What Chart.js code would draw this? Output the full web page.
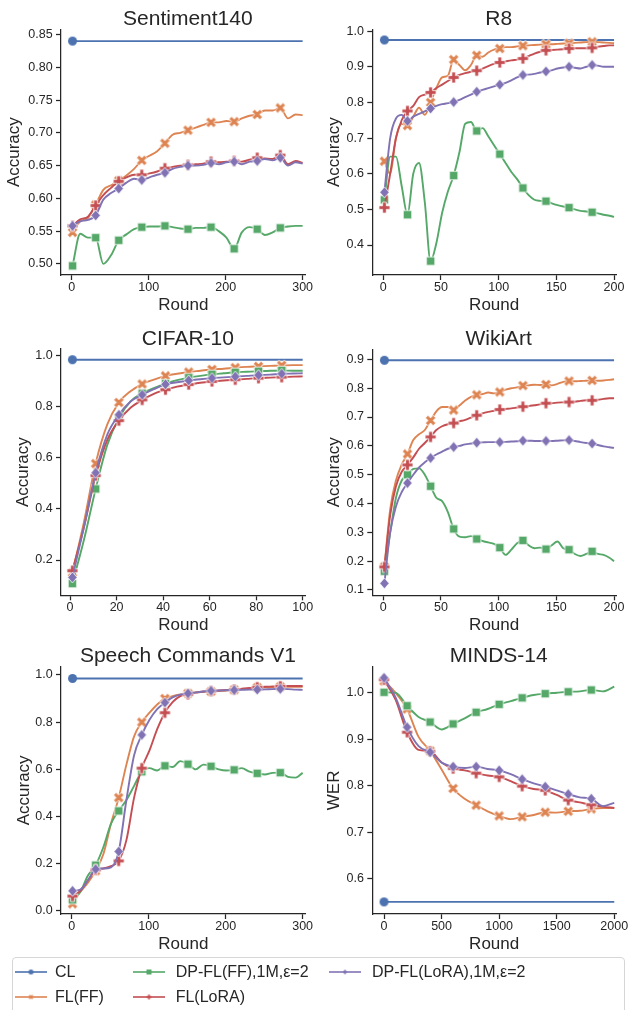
<!DOCTYPE html>
<html>
<head>
<meta charset="utf-8">
<script src="https://cdn.jsdelivr.net/npm/chart.js@4.4.0/dist/chart.umd.min.js"></script>
<style>
    body { margin: 0; background: #fff; width: 628px; height: 1010px; position: relative; overflow: hidden;
           font-family: "Liberation Sans", Arial, sans-serif; color: #262626; }
    canvas.panel { position: absolute; }
    #legendBox { position: absolute; left: 12px; top: 957px; width: 613px; height: 70px; box-sizing: border-box;
                 border: 1px solid #d6d6d6; border-radius: 4px; }
    .legItem { position: absolute; height: 20px; line-height: 20px; font-size: 16px; white-space: nowrap; }
    .legItem canvas { position: absolute; left: 0; top: 4px; }
    .legItem span { position: absolute; top: 0; }
</style>
</head>
<body>
<canvas id="c1" class="panel"></canvas>
<canvas id="c2" class="panel"></canvas>
<canvas id="c3" class="panel"></canvas>
<canvas id="c4" class="panel"></canvas>
<canvas id="c5" class="panel"></canvas>
<canvas id="c6" class="panel"></canvas>
<div id="legendBox"></div>
<script>
// ---------- dados ----------
const seriesNames = ["CL", "FL(FF)", "DP-FL(FF),1M,ε=2", "FL(LoRA)", "DP-FL(LoRA),1M,ε=2"];

// Sentiment140
const sentRounds = [1, 11, 21, 31, 41, 51, 61, 71, 81, 91, 101, 111, 121, 131, 141, 151, 161, 171, 181, 191, 201, 211, 221, 231, 241, 251, 261, 271, 281, 291, 300];
const sentCL = 0.840;
const sentFF = [0.548, 0.565, 0.570, 0.590, 0.613, 0.620, 0.627, 0.635, 0.645, 0.658, 0.665, 0.672, 0.684, 0.697, 0.700, 0.704, 0.708, 0.712, 0.716, 0.716, 0.718, 0.717, 0.722, 0.726, 0.728, 0.734, 0.734, 0.738, 0.722, 0.728, 0.727];
const sentDPFF = [0.497, 0.546, 0.540, 0.540, 0.500, 0.513, 0.536, 0.545, 0.553, 0.556, 0.557, 0.557, 0.558, 0.556, 0.554, 0.553, 0.555, 0.555, 0.556, 0.550, 0.540, 0.523, 0.548, 0.556, 0.553, 0.544, 0.548, 0.555, 0.557, 0.558, 0.558];
const sentLoRA = [0.558, 0.568, 0.572, 0.589, 0.605, 0.616, 0.626, 0.632, 0.636, 0.636, 0.638, 0.641, 0.646, 0.648, 0.650, 0.651, 0.652, 0.653, 0.656, 0.655, 0.656, 0.657, 0.656, 0.659, 0.662, 0.661, 0.660, 0.666, 0.652, 0.657, 0.654];
const sentDPLoRA = [0.558, 0.565, 0.567, 0.574, 0.598, 0.608, 0.615, 0.624, 0.630, 0.628, 0.632, 0.636, 0.639, 0.645, 0.648, 0.650, 0.650, 0.651, 0.654, 0.652, 0.655, 0.656, 0.652, 0.656, 0.657, 0.660, 0.658, 0.662, 0.650, 0.655, 0.653];
const sentYTicks = [0.50, 0.55, 0.60, 0.65, 0.70, 0.75, 0.80, 0.85];
const sentXTicks = [0, 100, 200, 300];

// R8
const r8Rounds = [1, 6, 11, 16, 21, 26, 31, 36, 41, 46, 51, 56, 61, 66, 71, 76, 81, 86, 91, 96, 101, 106, 111, 116, 121, 126, 131, 136, 141, 146, 151, 156, 161, 166, 171, 176, 181, 186, 191, 196, 200];
const r8CL = 0.975;
const r8FF = [0.635, 0.600, 0.700, 0.740, 0.735, 0.760, 0.785, 0.765, 0.800, 0.840, 0.870, 0.875, 0.920, 0.905, 0.890, 0.905, 0.932, 0.928, 0.940, 0.948, 0.951, 0.955, 0.955, 0.957, 0.959, 0.960, 0.961, 0.962, 0.963, 0.963, 0.964, 0.965, 0.966, 0.967, 0.968, 0.969, 0.970, 0.969, 0.968, 0.967, 0.966];
const r8DPFF = [0.527, 0.648, 0.648, 0.565, 0.485, 0.600, 0.630, 0.520, 0.355, 0.405, 0.490, 0.550, 0.595, 0.660, 0.740, 0.745, 0.720, 0.728, 0.705, 0.680, 0.655, 0.630, 0.605, 0.585, 0.560, 0.540, 0.527, 0.524, 0.523, 0.517, 0.512, 0.508, 0.505, 0.500, 0.496, 0.494, 0.492, 0.489, 0.485, 0.482, 0.479];
const r8LoRA = [0.505, 0.600, 0.700, 0.750, 0.776, 0.790, 0.815, 0.822, 0.828, 0.840, 0.850, 0.860, 0.870, 0.877, 0.882, 0.886, 0.889, 0.895, 0.902, 0.908, 0.912, 0.915, 0.918, 0.920, 0.923, 0.930, 0.937, 0.942, 0.946, 0.947, 0.948, 0.949, 0.951, 0.952, 0.952, 0.952, 0.953, 0.956, 0.958, 0.960, 0.960];
const r8DPLoRA = [0.548, 0.700, 0.755, 0.765, 0.748, 0.760, 0.768, 0.775, 0.783, 0.790, 0.795, 0.798, 0.801, 0.807, 0.815, 0.822, 0.830, 0.835, 0.840, 0.845, 0.850, 0.855, 0.862, 0.870, 0.877, 0.878, 0.880, 0.884, 0.887, 0.890, 0.895, 0.898, 0.900, 0.897, 0.895, 0.900, 0.905, 0.903, 0.900, 0.900, 0.900];
const r8YTicks = [0.4, 0.5, 0.6, 0.7, 0.8, 0.9, 1.0];
const r8XTicks = [0, 50, 100, 150, 200];

// CIFAR-10
const cifRounds = [1, 6, 11, 16, 21, 26, 31, 36, 41, 46, 51, 56, 61, 66, 71, 76, 81, 86, 91, 96, 100];
const cifCL = 0.983;
const cifFF = [0.150, 0.350, 0.577, 0.730, 0.816, 0.860, 0.888, 0.905, 0.920, 0.928, 0.935, 0.940, 0.945, 0.948, 0.952, 0.955, 0.957, 0.959, 0.961, 0.962, 0.962];
const cifDPFF = [0.108, 0.280, 0.478, 0.650, 0.755, 0.820, 0.852, 0.872, 0.890, 0.903, 0.913, 0.920, 0.926, 0.930, 0.934, 0.936, 0.938, 0.940, 0.941, 0.940, 0.940];
const cifLoRA = [0.158, 0.330, 0.530, 0.670, 0.745, 0.795, 0.826, 0.850, 0.866, 0.878, 0.886, 0.893, 0.898, 0.902, 0.905, 0.908, 0.911, 0.913, 0.915, 0.917, 0.918];
const cifDPLoRA = [0.132, 0.330, 0.541, 0.690, 0.768, 0.820, 0.846, 0.868, 0.887, 0.895, 0.902, 0.907, 0.911, 0.914, 0.917, 0.920, 0.923, 0.925, 0.928, 0.929, 0.930];
const cifYTicks = [0.2, 0.4, 0.6, 0.8, 1.0];
const cifXTicks = [0, 20, 40, 60, 80, 100];

// WikiArt
const wikiRounds = [1, 6, 11, 16, 21, 26, 31, 36, 41, 46, 51, 56, 61, 66, 71, 76, 81, 86, 91, 96, 101, 106, 111, 116, 121, 126, 131, 136, 141, 146, 151, 156, 161, 166, 171, 176, 181, 186, 191, 196, 200];
const wikiCL = 0.897;
const wikiFF = [0.180, 0.380, 0.480, 0.535, 0.572, 0.620, 0.640, 0.655, 0.688, 0.720, 0.735, 0.735, 0.724, 0.740, 0.757, 0.770, 0.777, 0.780, 0.785, 0.782, 0.787, 0.795, 0.800, 0.803, 0.809, 0.810, 0.812, 0.811, 0.813, 0.810, 0.815, 0.822, 0.825, 0.824, 0.825, 0.826, 0.827, 0.826, 0.827, 0.829, 0.831];
const wikiDPFF = [0.165, 0.300, 0.420, 0.480, 0.500, 0.520, 0.522, 0.500, 0.460, 0.420, 0.408, 0.370, 0.312, 0.285, 0.283, 0.287, 0.277, 0.270, 0.265, 0.260, 0.247, 0.222, 0.240, 0.262, 0.272, 0.255, 0.245, 0.247, 0.242, 0.255, 0.268, 0.245, 0.240, 0.225, 0.218, 0.225, 0.234, 0.225, 0.222, 0.212, 0.200];
const wikiLoRA = [0.180, 0.360, 0.460, 0.510, 0.534, 0.560, 0.590, 0.610, 0.631, 0.655, 0.668, 0.675, 0.679, 0.685, 0.690, 0.698, 0.706, 0.713, 0.718, 0.722, 0.726, 0.728, 0.730, 0.733, 0.736, 0.738, 0.741, 0.744, 0.748, 0.748, 0.750, 0.751, 0.752, 0.753, 0.756, 0.758, 0.758, 0.760, 0.763, 0.765, 0.765];
const wikiDPLoRA = [0.123, 0.300, 0.390, 0.440, 0.471, 0.500, 0.525, 0.543, 0.558, 0.570, 0.580, 0.590, 0.596, 0.600, 0.605, 0.608, 0.611, 0.612, 0.613, 0.613, 0.613, 0.614, 0.615, 0.616, 0.618, 0.618, 0.617, 0.617, 0.617, 0.617, 0.618, 0.619, 0.620, 0.617, 0.613, 0.610, 0.608, 0.603, 0.598, 0.595, 0.593];
const wikiYTicks = [0.1, 0.2, 0.3, 0.4, 0.5, 0.6, 0.7, 0.8, 0.9];
const wikiXTicks = [0, 50, 100, 150, 200];

// Speech Commands V1
const spRounds = [1, 11, 21, 31, 41, 51, 61, 71, 81, 91, 101, 111, 121, 131, 141, 151, 161, 171, 181, 191, 201, 211, 221, 231, 241, 251, 261, 271, 281, 291, 300];
const spCL = 0.985;
const spFF = [0.030, 0.080, 0.120, 0.170, 0.240, 0.370, 0.480, 0.620, 0.740, 0.800, 0.840, 0.875, 0.900, 0.910, 0.917, 0.922, 0.926, 0.928, 0.930, 0.932, 0.934, 0.937, 0.939, 0.942, 0.947, 0.948, 0.948, 0.950, 0.950, 0.950, 0.950];
const spDPFF = [0.047, 0.080, 0.150, 0.194, 0.270, 0.370, 0.424, 0.470, 0.530, 0.590, 0.605, 0.595, 0.615, 0.610, 0.635, 0.622, 0.600, 0.620, 0.613, 0.600, 0.595, 0.598, 0.605, 0.590, 0.583, 0.578, 0.585, 0.586, 0.568, 0.565, 0.585];
const spLoRA = [0.063, 0.085, 0.130, 0.174, 0.180, 0.190, 0.212, 0.300, 0.480, 0.605, 0.680, 0.770, 0.840, 0.885, 0.910, 0.918, 0.925, 0.930, 0.932, 0.934, 0.936, 0.938, 0.942, 0.945, 0.948, 0.950, 0.951, 0.952, 0.953, 0.953, 0.953];
const spDPLoRA = [0.085, 0.090, 0.130, 0.177, 0.180, 0.185, 0.252, 0.470, 0.660, 0.746, 0.810, 0.855, 0.883, 0.905, 0.917, 0.922, 0.926, 0.930, 0.933, 0.934, 0.935, 0.936, 0.937, 0.938, 0.938, 0.939, 0.940, 0.941, 0.940, 0.938, 0.937];
const spYTicks = [0.0, 0.2, 0.4, 0.6, 0.8, 1.0];
const spXTicks = [0, 100, 200, 300];

// MINDS-14 (WER)
const mindsRounds = [0, 100, 200, 300, 400, 500, 600, 700, 800, 900, 1000, 1100, 1200, 1300, 1400, 1500, 1600, 1700, 1800, 1900, 2000];
const mindsCL = 0.550;
const mindsFF = [1.025, 1.000, 0.965, 0.905, 0.875, 0.835, 0.794, 0.772, 0.758, 0.745, 0.735, 0.728, 0.733, 0.737, 0.743, 0.742, 0.745, 0.746, 0.750, 0.752, 0.752];
const mindsDPFF = [1.001, 1.000, 0.972, 0.948, 0.937, 0.921, 0.933, 0.945, 0.958, 0.965, 0.975, 0.982, 0.989, 0.995, 0.998, 1.000, 1.002, 1.003, 1.006, 1.003, 1.013];
const mindsLoRA = [1.028, 0.985, 0.915, 0.877, 0.874, 0.850, 0.837, 0.833, 0.827, 0.822, 0.819, 0.810, 0.799, 0.793, 0.790, 0.780, 0.769, 0.764, 0.759, 0.755, 0.752];
const mindsDPLoRA = [1.032, 0.990, 0.926, 0.885, 0.872, 0.850, 0.841, 0.838, 0.841, 0.836, 0.833, 0.825, 0.814, 0.805, 0.798, 0.790, 0.782, 0.775, 0.772, 0.756, 0.763];
const mindsYTicks = [0.6, 0.7, 0.8, 0.9, 1.0];
const mindsXTicks = [0, 500, 1000, 1500, 2000];

// ---------- estilo ----------
const INK = '#262626';
const FONT = '"Liberation Sans", Arial, sans-serif';
const COLORS = ['#4c72b0', '#dd8452', '#55a868', '#c44e52', '#8172b3'];
const SHAPES = ['circle', 'x', 'square', 'plus', 'diamond'];
const SIZES = [9, 11, 8.5, 11, 11];

/*
 * Desenha um marcador (estilo matplotlib) num canvas pequeno, para usar
 * como pointStyle.
 */
function makeMarker(shape, color, size, edge) {
    const c = document.createElement('canvas');
    const s = Math.ceil(size + 4);
    c.width = s;
    c.height = s;
    const g = c.getContext('2d');
    g.translate(s / 2, s / 2);
    g.beginPath();
    const a = size / 2;
    if (shape === 'circle') {
        g.arc(0, 0, a, 0, Math.PI * 2);
    } else if (shape === 'square') {
        g.rect(-a, -a, 2 * a, 2 * a);
    } else if (shape === 'diamond') {
        g.moveTo(0, -a); g.lineTo(a * 0.85, 0); g.lineTo(0, a); g.lineTo(-a * 0.85, 0);
        g.closePath();
    } else {
        // plus cheio ('P'), e o mesmo rodado 45 graus para o 'X'
        const t = a / 3;
        const pts = [[-t, -a], [t, -a], [t, -t], [a, -t], [a, t], [t, t], [t, a], [-t, a], [-t, t], [-a, t], [-a, -t], [-t, -t]];
        if (shape === 'x') g.rotate(Math.PI / 4);
        pts.forEach((p, i) => i ? g.lineTo(p[0], p[1]) : g.moveTo(p[0], p[1]));
        g.closePath();
    }
    g.fillStyle = color;
    g.fill();
    if (edge) {
        g.lineWidth = 0.8;
        g.strokeStyle = '#fff';
        g.stroke();
    }
    return c;
}

const markers = SHAPES.map((sh, i) => makeMarker(sh, COLORS[i], SIZES[i], i > 0));

// titulo centrado sobre a area dos eixos
const panelTitle = {
    id: 'panelTitle',
    afterDraw(chart, args, opts) {
        const ctx = chart.ctx;
        const a = chart.chartArea;
        ctx.save();
        ctx.font = '21px ' + FONT;
        ctx.fillStyle = INK;
        ctx.textAlign = 'center';
        ctx.textBaseline = 'alphabetic';
        ctx.fillText(opts.text, (a.left + a.right) / 2 + 4.5, a.top - 4.5);
        ctx.restore();
    }
};

// ---------- paineis ----------
// canvas: posicao na pagina; area: caixa dos eixos na pagina
const panels = [
    {id: 'c1', title: 'Sentiment140', yLabel: 'Accuracy', rounds: sentRounds, cl: sentCL,
     series: [sentFF, sentDPFF, sentLoRA, sentDPLoRA], yTicks: sentYTicks, xTicks: sentXTicks, dec: 2,
     x: [-14, 304], y: [0.483, 0.858], every: 3,
     canvas: {x: 0, y: 0, w: 322, h: 320}, area: {l: 61, r: 305.7, t: 29.3, b: 275}, yTitleX: 14.5},
    {id: 'c2', title: 'R8', yLabel: 'Accuracy', rounds: r8Rounds, cl: r8CL,
     series: [r8FF, r8DPFF, r8LoRA, r8DPLoRA], yTicks: r8YTicks, xTicks: r8XTicks, dec: 1,
     x: [-9.5, 201.7], y: [0.316, 1.005], every: 4,
     canvas: {x: 308, y: 0, w: 320, h: 320}, area: {l: 372.3, r: 616, t: 29.3, b: 275}, yTitleX: 334.3},
    {id: 'c3', title: 'CIFAR-10', yLabel: 'Accuracy', rounds: cifRounds, cl: cifCL,
     series: [cifFF, cifDPFF, cifLoRA, cifDPLoRA], yTicks: cifYTicks, xTicks: cifXTicks, dec: 1,
     x: [-3.9, 101.3], y: [0.062, 1.025], every: 2,
     canvas: {x: 0, y: 320, w: 322, h: 320}, area: {l: 61, r: 305.7, t: 349, b: 595.3}, yTitleX: 23.5},
    {id: 'c4', title: 'WikiArt', yLabel: 'Accuracy', rounds: wikiRounds, cl: wikiCL,
     series: [wikiFF, wikiDPFF, wikiLoRA, wikiDPLoRA], yTicks: wikiYTicks, xTicks: wikiXTicks, dec: 1,
     x: [-9.5, 201.7], y: [0.0816, 0.935], every: 4,
     canvas: {x: 308, y: 320, w: 320, h: 320}, area: {l: 372.3, r: 616, t: 349.3, b: 595.3}, yTitleX: 334.3},
    {id: 'c5', title: 'Speech Commands V1', yLabel: 'Accuracy', rounds: spRounds, cl: spCL,
     series: [spFF, spDPFF, spLoRA, spDPLoRA], yTicks: spYTicks, xTicks: spXTicks, dec: 1,
     x: [-14, 304], y: [-0.013, 1.035], every: 3,
     canvas: {x: 0, y: 640, w: 322, h: 320}, area: {l: 61, r: 305.7, t: 666.7, b: 914}, yTitleX: 24.2},
    {id: 'c6', title: 'MINDS-14', yLabel: 'WER', rounds: mindsRounds, cl: mindsCL,
     series: [mindsFF, mindsDPFF, mindsLoRA, mindsDPLoRA], yTicks: mindsYTicks, xTicks: mindsXTicks, dec: 1,
     x: [-102, 2015], y: [0.524, 1.056], every: 2,
     canvas: {x: 308, y: 640, w: 320, h: 320}, area: {l: 372.3, r: 616, t: 666.7, b: 914}, yTitleX: 334.3}
];

function makePanel(p) {
    const cv = document.getElementById(p.id);
    cv.width = p.canvas.w;
    cv.height = p.canvas.h;
    cv.style.left = p.canvas.x + 'px';
    cv.style.top = p.canvas.y + 'px';

    const yAxisW = p.area.l - p.canvas.x;
    const xAxisH = p.canvas.y + p.canvas.h - p.area.b;
    const padRight = p.canvas.x + p.canvas.w - p.area.r;
    const padTop = p.area.t - p.canvas.y;
    const n = p.rounds.length;

    const datasets = [];
    // CL: linha constante com um so marcador no inicio
    datasets.push({
        label: seriesNames[0],
        data: [{x: p.rounds[0], y: p.cl}, {x: p.rounds[n - 1], y: p.cl}],
        borderColor: COLORS[0], borderWidth: 1.9,
        pointStyle: markers[0],
        pointRadius: ctx => ctx.dataIndex === 0 ? 4 : 0,
        order: 4
    });
    p.series.forEach((vals, k) => {
        datasets.push({
            label: seriesNames[k + 1],
            data: vals.map((v, i) => ({x: p.rounds[i], y: v})),
            borderColor: COLORS[k + 1], borderWidth: 1.9,
            cubicInterpolationMode: 'monotone',
            pointStyle: markers[k + 1],
            pointRadius: ctx => (ctx.dataIndex % p.every === 0 && ctx.dataIndex < n - 1) ? 4 : 0,
            order: 3 - k
        });
    });

    new Chart(cv, {
        type: 'line',
        data: {datasets: datasets},
        plugins: [panelTitle],
        options: {
            responsive: false,
            animation: false,
            events: [],
            layout: {padding: {left: 0, right: padRight, top: padTop, bottom: 0}},
            plugins: {
                legend: {display: false},
                tooltip: {enabled: false},
                title: {display: false},
                panelTitle: {text: p.title}
            },
            scales: {
                x: {
                    type: 'linear', min: p.x[0], max: p.x[1],
                    afterBuildTicks: s => { s.ticks = p.xTicks.map(v => ({value: v})); },
                    afterFit: s => { s.height = xAxisH; s.paddingLeft = 0; s.paddingRight = 0; },
                    ticks: {autoSkip: false, maxRotation: 0, minRotation: 0, padding: 0, color: INK,
                            font: {family: FONT, size: 12.5}, callback: v => String(v)},
                    grid: {drawOnChartArea: false, drawTicks: true, tickLength: 5, tickColor: INK, tickWidth: 1.25},
                    border: {display: true, color: INK, width: 1.25},
                    title: {display: true, text: 'Round', color: INK, font: {family: FONT, size: 17},
                            padding: {top: 0, bottom: (p.canvas.y + p.canvas.h) - (p.area.b + 30) - 10.2}}
                },
                y: {
                    type: 'linear', min: p.y[0], max: p.y[1],
                    afterBuildTicks: s => { s.ticks = p.yTicks.map(v => ({value: v})); },
                    afterFit: s => { s.width = yAxisW; s.paddingTop = 0; s.paddingBottom = 0; },
                    ticks: {autoSkip: false, padding: 3.4, color: INK,
                            font: {family: FONT, size: 12.5}, callback: v => Number(v).toFixed(p.dec)},
                    grid: {drawOnChartArea: false, drawTicks: true, tickLength: 5, tickColor: INK, tickWidth: 1.25},
                    border: {display: true, color: INK, width: 1.25},
                    title: {display: true, text: p.yLabel, color: INK, font: {family: FONT, size: 17},
                            padding: {top: p.yTitleX - p.canvas.x - 10.2, bottom: 0}}
                }
            }
        }
    });
}

panels.forEach(makePanel);

// ---------- legenda (3 colunas) ----------
const legendCols = [15, 132.7, 329];
const legendRows = [972.3, 996.7];
const legendPlace = [[0, 0], [0, 1], [1, 0], [1, 1], [2, 0]];

legendPlace.forEach((cr, i) => {
    const item = document.createElement('div');
    item.className = 'legItem';
    item.style.left = legendCols[cr[0]] + 'px';
    item.style.top = (legendRows[cr[1]] - 10) + 'px';

    const sample = document.createElement('canvas');
    sample.width = 32;
    sample.height = 12;
    const g = sample.getContext('2d');
    g.strokeStyle = COLORS[i];
    g.lineWidth = 1.6;
    g.beginPath();
    g.moveTo(0, 6);
    g.lineTo(32, 6);
    g.stroke();
    const m = makeMarker(SHAPES[i], COLORS[i], 5, false);
    g.drawImage(m, 16 - m.width / 2, 6 - m.height / 2);
    item.appendChild(sample);

    const txt = document.createElement('span');
    txt.textContent = seriesNames[i];
    txt.style.left = (40 + (cr[0] === 0 ? 0 : 3)) + 'px';
    item.appendChild(txt);
    document.body.appendChild(item);
});
</script>
</body>
</html>
